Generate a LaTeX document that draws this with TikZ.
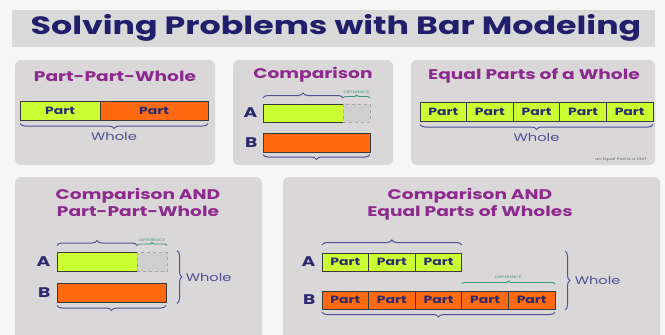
\documentclass[tikz,border=0pt]{standalone}
\usepackage{fontspec}
\setmainfont[FakeStretch=1.33]{Poppins}
\usepackage{tikz}
\usetikzlibrary{positioning, calc, decorations.pathreplacing}
\definecolor{pageBg}{HTML}{F6F6F6}
\definecolor{bandGrey}{HTML}{D9D9D9}
\definecolor{panelGrey}{HTML}{D9D7D7}
\definecolor{titleNavy}{HTML}{1F1F6B}
\definecolor{titlePurple}{HTML}{8E2A8E}
\definecolor{labelNavy}{HTML}{2A2A70}
\definecolor{braceBlue}{HTML}{50509A}
\definecolor{diffTeal}{HTML}{3A9A7A}
\definecolor{partGreen}{HTML}{CCFF33}
\definecolor{partOrange}{HTML}{FF6A10}
\definecolor{barEdge}{HTML}{3A3A3A}
\definecolor{gapGrey}{HTML}{CFCFCF}

\begin{document}
\begin{tikzpicture}[
    x=1pt, y=-1pt,
    panel/.style={
        fill=panelGrey, rounded corners=6pt,
    },
    ptitle/.style={
        font=\bfseries\fontsize{14}{17}\selectfont,
        text=titlePurple, align=center,
    },
    bar/.style={
        draw=barEdge, line width=1pt, outer sep=0pt, inner sep=0pt,
        minimum height=19pt, text=labelNavy,
        font=\bfseries\fontsize{10.5}{10.5}\selectfont,
    },
    partg/.style={bar, fill=partGreen},
    parto/.style={bar, fill=partOrange},
    gapbox/.style={
        draw=gray!70, dashed, fill=gapGrey, outer sep=0pt,
        inner sep=0pt, minimum height=19pt,
    },
    letter/.style={
        font=\bfseries\fontsize{14}{14}\selectfont, text=labelNavy,
    },
    whole/.style={
        font=\fontsize{11}{11}\selectfont, text=braceBlue,
    },
    brace/.style={
        decorate, decoration={brace, amplitude=5pt},
        line width=1pt, draw=braceBlue,
    },
    diffbrace/.style={
        decorate, decoration={brace, amplitude=3pt},
        line width=0.9pt, draw=diffTeal,
    },
    difftext/.style={
        font=\fontsize{3.5}{4}\selectfont, text=diffTeal, inner sep=1pt,
    },
]

\clip (0,0) rectangle (665,335);
\fill[pageBg] (0,0) rectangle (665,335);

%--- Title band ---
\fill[bandGrey] (12,10) rectangle (655,47);
\node[font=\fontsize{25}{28}\selectfont\bfseries, text=titleNavy] (title) at (336,28)
    {Solving Problems with Bar Modeling};

%--- Panel 1: Part-Part-Whole ---
\fill[panel] (15,60) rectangle (215,165);
\node[ptitle] (t1) at (115,76) {Part-Part-Whole};
\node[partg, minimum width=80pt, anchor=west] (p1a) at (20,111) {Part};
\node[parto, minimum width=108pt, right=0pt of p1a] (p1b) {Part};
\draw[brace] ($(p1b.south east)+(0,3)$) -- ($(p1a.south west)+(0,3)$)
    node[whole, midway, below=5pt] (w1) {Whole};

%--- Panel 2: Comparison ---
\fill[panel] (233,60) rectangle (393,165);
\node[ptitle] (t2) at (313,75) {Comparison};
\node[partg, minimum width=80pt, anchor=west, minimum height=18pt] (a2) at (263,113) {};
\node[gapbox, minimum width=27pt, minimum height=18pt, right=0pt of a2] (g2) {};
\node[parto, minimum width=107pt, anchor=west] (b2) at (263,143) {};
\node[letter, left=2pt of a2] (la2) {A};
\node[letter, left=2pt of b2] (lb2) {B};
\draw[brace] ($(a2.north west)+(0,-6)$) -- ($(a2.north east)+(0,-6)$);
\draw[diffbrace] ($(g2.north west)+(0,-6)$) -- ($(g2.north east)+(0,-6)$)
    node[difftext, midway, above=3pt] (d2) {DIFFERENCE};
\draw[brace] ($(b2.south east)+(0,2)$) -- ($(b2.south west)+(0,2)$);

%--- Panel 3: Equal Parts of a Whole ---
\fill[panel] (411,60) rectangle (655,165);
\node[ptitle] (t3) at (534,76) {Equal Parts of a Whole};
\node[partg, minimum width=46.6pt, anchor=west] (e1) at (420,112) {Part};
\node[partg, minimum width=46.6pt, right=0pt of e1] (e2) {Part};
\node[partg, minimum width=46.6pt, right=0pt of e2] (e3) {Part};
\node[partg, minimum width=46.6pt, right=0pt of e3] (e4) {Part};
\node[partg, minimum width=46.6pt, right=0pt of e4] (e5) {Part};
\draw[brace] ($(e5.south east)+(0,3)$) -- ($(e1.south west)+(0,3)$)
    node[whole, midway, below=5pt] (w3) {Whole};
\node[font=\fontsize{3.5}{4}\selectfont, text=gray!80!black] (unit) at (621,160)
    {an Equal Part is a UNIT};

%--- Panel 4: Comparison AND Part-Part-Whole ---
\fill[panel] (15,177) rectangle (262,345);
\node[ptitle] (t4) at (138,202) {Comparison AND\\Part-Part-Whole};
\node[partg, minimum width=80pt, anchor=west] (a4) at (57,262) {};
\node[gapbox, minimum width=30pt, right=0pt of a4] (g4) {};
\node[parto, minimum width=109pt, anchor=west] (b4) at (57,293) {};
\node[letter, left=3pt of a4] (la4) {A};
\node[letter, left=3pt of b4] (lb4) {B};
\draw[brace] ($(a4.north west)+(0,-7)$) -- ($(a4.north east)+(0,-7)$);
\draw[diffbrace] ($(g4.north west)+(0,-7)$) -- ($(g4.north east)+(0,-7)$)
    node[difftext, midway, above=3pt] (d4) {DIFFERENCE};
\draw[brace] ($(b4.south east)+(0,3)$) -- ($(b4.south west)+(0,3)$);
\draw[brace] ($(g4.north east)+(10,-2)$) -- ($(b4.south east)+(11,1)$)
    node[whole, midway, right=5pt] (w4) {Whole};

%--- Panel 5: Comparison AND Equal Parts of Wholes ---
\fill[panel] (283,177) rectangle (660,345);
\node[ptitle] (t5) at (470,204) {Comparison AND\\Equal Parts of Wholes};
\node[partg, minimum width=46.6pt, minimum height=18pt, anchor=west] (a5a) at (322,262) {Part};
\node[partg, minimum width=46.6pt, minimum height=18pt, right=0pt of a5a] (a5b) {Part};
\node[partg, minimum width=46.6pt, minimum height=18pt, right=0pt of a5b] (a5c) {Part};
\node[parto, minimum width=46.6pt, minimum height=18pt, anchor=west] (b5a) at (322,300) {Part};
\node[parto, minimum width=46.6pt, minimum height=18pt, right=0pt of b5a] (b5b) {Part};
\node[parto, minimum width=46.6pt, minimum height=18pt, right=0pt of b5b] (b5c) {Part};
\node[parto, minimum width=46.6pt, minimum height=18pt, right=0pt of b5c] (b5d) {Part};
\node[parto, minimum width=46.6pt, minimum height=18pt, right=0pt of b5d] (b5e) {Part};
\node[letter, left=3pt of a5a] (la5) {A};
\node[letter, left=3pt of b5a] (lb5) {B};
\draw[brace] ($(a5a.north west)+(0,-8)$) -- ($(a5c.north east)+(0,-8)$);
\draw[diffbrace] ($(b5d.north west)+(0,-7)$) -- ($(b5e.north east)+(0,-7)$)
    node[difftext, midway, above=4pt] (d5) {DIFFERENCE};
\draw[brace] ($(b5e.south east)+(0,3)$) -- ($(b5a.south west)+(0,3)$);
\draw[brace] ($(b5e.east |- a5c.north)+(10,-2)$) -- ($(b5e.south east)+(10,1)$)
    node[whole, midway, right=6pt] (w5) {Whole};

\end{tikzpicture}
\end{document}
